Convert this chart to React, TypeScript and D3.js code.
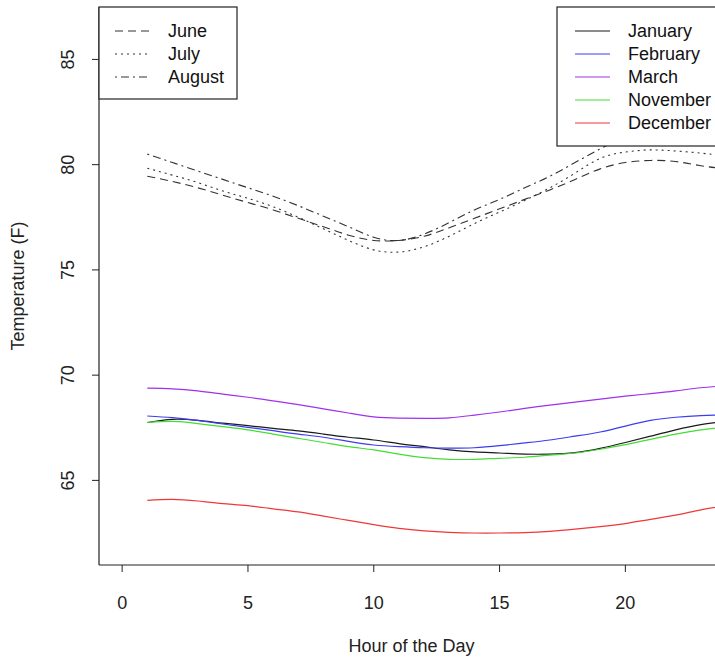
import React from "react";
import * as d3 from "d3";

const hours = [1,2,3,4,5,6,7,8,9,10,11,12,13,14,15,16,17,18,19,20,21,22,23,24];

const june = [79.45,79.2,78.9,78.55,78.2,77.85,77.45,77.05,76.65,76.4,76.4,76.6,77.0,77.45,77.9,78.35,78.8,79.3,79.8,80.1,80.2,80.15,79.95,79.8];
const july = [79.83,79.5,79.15,78.75,78.4,78.0,77.5,76.95,76.4,75.95,75.85,76.1,76.6,77.2,77.75,78.3,78.9,79.6,80.3,80.6,80.7,80.65,80.55,80.4];
const august = [80.5,80.1,79.7,79.3,78.9,78.5,78.05,77.55,77.05,76.55,76.4,76.7,77.25,77.85,78.35,78.9,79.45,80.1,80.75,81.3,81.6,81.6,81.4,81.2];

const january = [67.75,67.9,67.85,67.72,67.6,67.47,67.35,67.2,67.05,66.92,66.75,66.6,66.45,66.35,66.3,66.25,66.25,66.32,66.52,66.8,67.1,67.4,67.65,67.8];
const february = [68.06,67.98,67.85,67.68,67.52,67.36,67.2,67.05,66.85,66.68,66.6,66.55,66.53,66.55,66.65,66.78,66.92,67.1,67.3,67.58,67.85,68.0,68.08,68.12];
const march = [69.38,69.35,69.25,69.1,68.95,68.78,68.6,68.4,68.2,68.02,67.96,67.95,67.97,68.1,68.25,68.42,68.58,68.72,68.86,69.0,69.12,69.25,69.4,69.5];
const november = [67.75,67.8,67.7,67.55,67.4,67.2,67.0,66.8,66.6,66.45,66.25,66.08,66.0,66.0,66.05,66.1,66.2,66.3,66.48,66.7,66.95,67.2,67.4,67.55];
const december = [64.05,64.1,64.02,63.9,63.8,63.65,63.5,63.3,63.1,62.9,62.72,62.6,62.53,62.5,62.5,62.52,62.58,62.68,62.8,62.95,63.15,63.35,63.6,63.8];

const summerNames = ["June", "July", "August"];
const summerSeries = [june, july, august];
const summerDash = ["8,5", "2,4", "2,4,8,4"];

const winterNames = ["January", "February", "March", "November", "December"];
const winterSeries = [january, february, march, november, december];
const winterColors = ["#1a1a1a", "#3c3cf0", "#a030ee", "#44dd33", "#ee3838"];

const xTicks = [0, 5, 10, 15, 20];
const yTicks = [65, 70, 75, 80, 85];

const W = 715, H = 659;
const left = 99, right = 724, top = 7, bottom = 565;

export default function App() {
  const x = d3.scaleLinear().domain([-0.92, 23.92]).range([left, right]);
  const y = d3.scaleLinear().domain([60.98, 87.49]).range([bottom, top]);
  const line = d3.line<number>()
    .x((_, i) => x(hours[i]))
    .y((d) => y(d))
    .curve(d3.curveNatural);
  const font = "'Liberation Sans', Arial, sans-serif";
  const fs = 18;
  const axisColor = "#222";

  return (
    <svg width={W} height={H} style={{ position: "absolute", left: 0, top: 0, background: "#fff" }} fontFamily={font}>
      <defs>
        <clipPath id="plotclip">
          <rect x={left} y={top} width={right - left} height={bottom - top} />
        </clipPath>
      </defs>
      <rect x={0} y={0} width={W} height={H} fill="#fff" />
      <g clipPath="url(#plotclip)">
        {summerSeries.map((s, i) => (
          <path key={summerNames[i]} d={line(s) || ""} fill="none" stroke="#333" strokeWidth={1.1} strokeDasharray={summerDash[i]} />
        ))}
        {winterSeries.map((s, i) => (
          <path key={winterNames[i]} d={line(s) || ""} fill="none" stroke={winterColors[i]} strokeWidth={1.2} />
        ))}
      </g>
      {/* box (L shape) */}
      <line x1={left} x2={left} y1={top} y2={bottom} stroke={axisColor} strokeWidth={1.2} />
      <line x1={left} x2={W} y1={bottom} y2={bottom} stroke={axisColor} strokeWidth={1.2} />
      {/* y axis */}
      {yTicks.map((t) => (
        <g key={t}>
          <line x1={left - 7} x2={left} y1={y(t)} y2={y(t)} stroke={axisColor} strokeWidth={1} />
          <text x={68} y={y(t)} transform={`rotate(-90, 68, ${y(t)})`} textAnchor="middle" dominantBaseline="central" fontSize={fs} fill="#222">{t}</text>
        </g>
      ))}
      {/* x axis */}
      {xTicks.map((t) => (
        <g key={t}>
          <line x1={x(t)} x2={x(t)} y1={bottom} y2={bottom + 7} stroke={axisColor} strokeWidth={1} />
          <text x={x(t)} y={603} textAnchor="middle" dominantBaseline="central" fontSize={fs} fill="#222">{t}</text>
        </g>
      ))}
      <text x={(left + right) / 2} y={646} textAnchor="middle" dominantBaseline="central" fontSize={fs} fill="#222">Hour of the Day</text>
      <text x={18} y={(top + bottom) / 2} transform={`rotate(-90, 18, ${(top + bottom) / 2})`} textAnchor="middle" dominantBaseline="central" fontSize={fs} fill="#222">Temperature (F)</text>

      {/* left legend */}
      <rect x={left} y={top} width={237 - left} height={99 - top} fill="#fff" stroke={axisColor} strokeWidth={1.2} />
      {summerNames.map((n, i) => (
        <g key={n}>
          <line x1={115} x2={150} y1={31 + i * 23} y2={31 + i * 23} stroke="#333" strokeWidth={1.1} strokeDasharray={summerDash[i]} />
          <text x={168} y={31 + i * 23} dominantBaseline="central" fontSize={fs} fill="#111">{n}</text>
        </g>
      ))}
      {/* right legend */}
      <rect x={557} y={top} width={right - 557} height={146 - top} fill="#fff" stroke={axisColor} strokeWidth={1.2} />
      {winterNames.map((n, i) => (
        <g key={n}>
          <line x1={575} x2={610} y1={31 + i * 23} y2={31 + i * 23} stroke={winterColors[i]} strokeWidth={1.2} />
          <text x={628} y={31 + i * 23} dominantBaseline="central" fontSize={fs} fill="#111">{n}</text>
        </g>
      ))}
    </svg>
  );
}
